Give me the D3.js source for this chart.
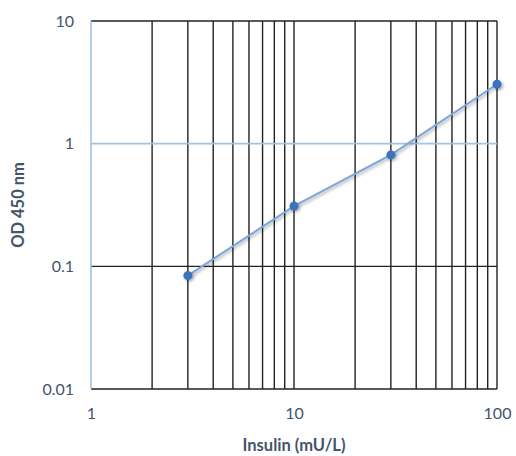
<!DOCTYPE html>
<html>
<head>
<meta charset="utf-8">
<script src="https://cdn.jsdelivr.net/npm/d3@7"></script>
<style>
  body { margin: 0; background: #fff; }
  text { font-family: Lato, "Open Sans", sans-serif; }
</style>
</head>
<body>
<script>
// standard curve points
var insulin = [3, 10, 30, 100];
var od450 = [0.084, 0.31, 0.81, 3.05];
var xTicks = [1, 10, 100];
var yTicks = [0.01, 0.1, 1, 10];
var xTickLabels = ["1", "10", "100"];
var yTickLabels = ["0.01", "0.1", "1", "10"];

var outerWidth = 516,
    outerHeight = 456,
    margin = {top: 21, right: 19, bottom: 67, left: 91},
    width = outerWidth - margin.left - margin.right,
    height = outerHeight - margin.top - margin.bottom;

var labelColor = "#44546a";

var svg = d3.select("body").append("svg")
    .attr("width", outerWidth)
    .attr("height", outerHeight);

var defs = svg.append("defs");
var shadow = defs.append("filter").attr("id", "shadow")
    .attr("x", "-50%").attr("y", "-50%").attr("width", "200%").attr("height", "200%");
shadow.append("feDropShadow")
    .attr("dx", 1.5).attr("dy", 1.5).attr("stdDeviation", 1.5)
    .attr("flood-color", "#000").attr("flood-opacity", 0.35);

var g = svg.append("g")
    .attr("transform", "translate(" + margin.left + "," + margin.top + ")");

var xScale = d3.scaleLog().domain([1, 100]).range([0, width]);
var yScale = d3.scaleLog().domain([0.01, 10]).range([height, 0]);

// vertical grid at every minor step 2..100
var xGrid = xScale.ticks().filter(function(d) { return d > 1; });
g.selectAll(".vgrid").data(xGrid).enter().append("line")
    .attr("class", "vgrid")
    .attr("x1", function(d) { return xScale(d); })
    .attr("x2", function(d) { return xScale(d); })
    .attr("y1", 0).attr("y2", height)
    .attr("stroke", "#222").attr("stroke-width", 1.4);

// horizontal grid at decades
g.selectAll(".hgrid").data(yTicks).enter().append("line")
    .attr("class", "hgrid")
    .attr("x1", 0).attr("x2", width)
    .attr("y1", function(d) { return yScale(d); })
    .attr("y2", function(d) { return yScale(d); })
    .attr("stroke", function(d) { return d === 1 ? "#9dc3e6" : "#222"; })
    .attr("stroke-width", function(d) { return d === 1 ? 1.6 : 1.4; });

// left axis line
g.append("line")
    .attr("x1", 0).attr("x2", 0)
    .attr("y1", 0).attr("y2", height)
    .attr("stroke", "#9dc3e6").attr("stroke-width", 1.6);

// tick labels
var xAxis = d3.axisBottom(xScale).tickValues(xTicks)
    .tickFormat(function(d, i) { return xTickLabels[i]; })
    .tickSize(0).tickPadding(19);
var yAxis = d3.axisLeft(yScale).tickValues(yTicks)
    .tickFormat(function(d, i) { return yTickLabels[i]; })
    .tickSize(0).tickPadding(17);

g.append("g").attr("transform", "translate(0," + height + ")").call(xAxis)
    .call(function(a) { a.select(".domain").remove(); })
    .selectAll("text").attr("fill", labelColor).style("font-size", "16px");
g.append("g").call(yAxis)
    .call(function(a) { a.select(".domain").remove(); })
    .selectAll("text").attr("fill", labelColor).style("font-size", "16px");

// series
var pts = insulin.map(function(d, i) { return [d, od450[i]]; });
var line = d3.line()
    .x(function(d) { return xScale(d[0]); })
    .y(function(d) { return yScale(d[1]); });

g.append("path").datum(pts)
    .attr("d", line)
    .attr("fill", "none")
    .attr("stroke", "#7aa7db").attr("stroke-width", 2)
    .attr("filter", "url(#shadow)");

g.selectAll(".dot").data(pts).enter().append("circle")
    .attr("class", "dot")
    .attr("cx", function(d) { return xScale(d[0]); })
    .attr("cy", function(d) { return yScale(d[1]); })
    .attr("r", 4.5)
    .attr("fill", "#3a73bd")
    .attr("filter", "url(#shadow)");

// axis titles
svg.append("text")
    .attr("x", margin.left + width / 2).attr("y", 451)
    .attr("text-anchor", "middle")
    .attr("fill", labelColor)
    .style("font-size", "16.5px").style("font-weight", "bold")
    .text("Insulin (mU/L)");

svg.append("text")
    .attr("transform", "translate(24," + (margin.top + height / 2) + ") rotate(-90)")
    .attr("text-anchor", "middle")
    .attr("fill", labelColor)
    .style("font-size", "16.5px").style("font-weight", "bold")
    .text("OD 450 nm");
</script>
</body>
</html>
